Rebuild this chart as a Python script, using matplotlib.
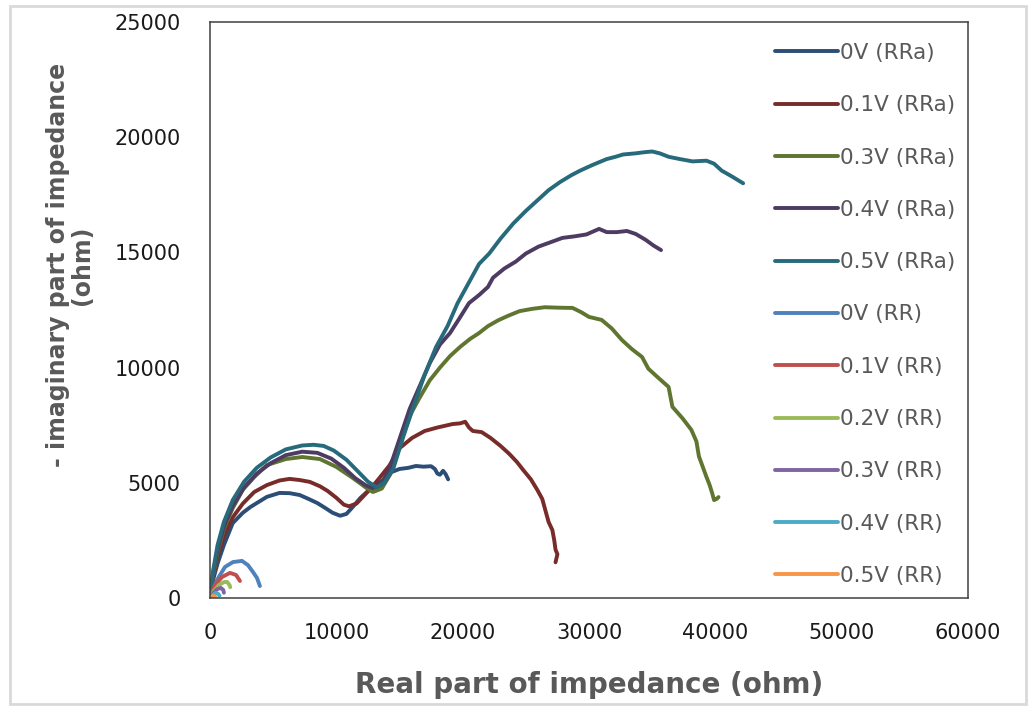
import matplotlib
matplotlib.use("Agg")
import matplotlib.pyplot as plt
from matplotlib.patches import Rectangle

# Nyquist data: (real, -imag) in ohm
labels = ["0V (RRa)", "0.1V (RRa)", "0.3V (RRa)", "0.4V (RRa)", "0.5V (RRa)",
          "0V (RR)", "0.1V (RR)", "0.2V (RR)", "0.3V (RR)", "0.4V (RR)", "0.5V (RR)"]
colors = ["#2C4D75", "#772C2A", "#5F7530", "#4D3B62", "#276A7C",
          "#4F81BD", "#C0504D", "#9BBB59", "#8064A2", "#4BACC6", "#F79646"]

rra_0v = [(0, 0), (250, 800), (600, 1500), (1100, 2300), (1800, 3250), (2600, 3700),
          (3200, 3950), (4500, 4390), (5500, 4560), (6300, 4550), (7100, 4470),
          (7800, 4300), (8500, 4120), (9200, 3880), (9700, 3700), (10300, 3570),
          (10800, 3650), (11300, 3950), (11900, 4340), (12600, 4690), (13300, 4950),
          (14000, 5250), (14300, 5450), (15000, 5600), (15700, 5650), (16300, 5730),
          (16900, 5700), (17500, 5720), (17800, 5600), (18000, 5400), (18200, 5350),
          (18450, 5520), (18650, 5380), (18850, 5150)]
rra_01v = [(0, 0), (250, 900), (600, 1800), (1100, 2700), (1800, 3500), (2600, 4100),
           (3500, 4600), (4500, 4900), (5500, 5100), (6300, 5170), (7100, 5120),
           (7900, 5040), (8700, 4850), (9300, 4650), (10000, 4350), (10600, 4050),
           (11000, 3980), (11600, 4100), (12200, 4450), (12800, 4800), (13400, 5200),
           (14200, 5750), (15000, 6500), (16000, 6950), (17000, 7250), (18000, 7400),
           (19200, 7550), (19800, 7580), (20200, 7650), (20500, 7400), (20800, 7250),
           (21500, 7200), (22200, 6950), (23000, 6600), (23700, 6250), (24300, 5900),
           (24800, 5550), (25400, 5150), (25900, 4700), (26300, 4300), (26600, 3700),
           (26800, 3300), (27100, 2950), (27250, 2500), (27350, 2100), (27500, 1900),
           (27350, 1550)]
rra_03v = [(0, 0), (250, 1000), (600, 2000), (1100, 3000), (1800, 3900), (2600, 4700),
           (3500, 5250), (4500, 5770), (6000, 6030), (7300, 6120), (8700, 6030),
           (10000, 5690), (11300, 5210), (12400, 4770), (12900, 4600), (13600, 4750),
           (14300, 5400), (15000, 6600), (15800, 7900), (16600, 8700), (17400, 9450),
           (18200, 10000), (19000, 10500), (19800, 10900), (20600, 11250), (21300, 11500),
           (22000, 11800), (22800, 12050), (23600, 12250), (24500, 12450), (25500, 12550),
           (26500, 12620), (27600, 12600), (28700, 12590), (29400, 12400), (30000, 12200),
           (31000, 12070), (31800, 11700), (32600, 11200), (33400, 10800), (34200, 10460),
           (34700, 9950), (35500, 9550), (36300, 9160), (36600, 8300), (37400, 7800),
           (38100, 7300), (38500, 6800), (38700, 6150), (39000, 5700), (39300, 5250),
           (39550, 4900), (39750, 4550), (39900, 4250), (40100, 4300), (40250, 4380)]
rra_04v = [(0, 0), (250, 1100), (600, 2100), (1100, 3100), (1800, 4000), (2700, 4800),
           (3700, 5400), (4800, 5850), (6000, 6200), (7300, 6350), (8500, 6300),
           (9600, 6050), (10600, 5650), (11500, 5200), (12300, 4900), (12900, 4770),
           (13500, 4900), (14200, 5600), (15000, 6900), (15800, 8200), (16600, 9200),
           (17400, 10200), (18200, 11000), (19000, 11500), (19700, 12100), (20500, 12800),
           (21300, 13150), (22000, 13500), (22400, 13900), (23300, 14300), (24200, 14600),
           (25000, 14950), (26000, 15250), (27000, 15450), (27900, 15630), (28900, 15700),
           (29800, 15780), (30800, 16020), (31400, 15880), (32200, 15880), (33000, 15930),
           (33700, 15800), (34500, 15540), (35100, 15300), (35700, 15100)]
rra_05v = [(0, 0), (250, 1200), (600, 2300), (1100, 3300), (1800, 4250), (2700, 5050),
           (3700, 5650), (4800, 6100), (6000, 6450), (7300, 6620), (8200, 6650),
           (9000, 6600), (9800, 6400), (10800, 6000), (11700, 5500), (12500, 5050),
           (13200, 4800), (13800, 5000), (14500, 5600), (15300, 7000), (16100, 8300),
           (17000, 9700), (17900, 10900), (18800, 11800), (19600, 12800), (20500, 13700),
           (21300, 14500), (22100, 14950), (23000, 15600), (24000, 16250), (25000, 16800),
           (26000, 17300), (26800, 17700), (27700, 18050), (28600, 18350), (29300, 18550),
           (30300, 18800), (31400, 19050), (32100, 19150), (32700, 19250), (33700, 19300),
           (34400, 19350), (35000, 19380), (35600, 19300), (36300, 19150), (37200, 19050),
           (38200, 18950), (39300, 18980), (39900, 18850), (40500, 18550), (41300, 18300),
           (42200, 18000)]

rr_0v = [(0, 0), (550, 780), (1190, 1350), (1820, 1560), (2530, 1610), (3000, 1430),
         (3400, 1130), (3720, 870), (3950, 520)]
rr_01v = [(0, 0), (400, 560), (950, 910), (1580, 1090), (2060, 1000), (2370, 740)]
rr_02v = [(0, 0), (300, 300), (700, 560), (1100, 690), (1350, 700), (1550, 560), (1600, 470)]
rr_03v = [(0, 0), (250, 200), (550, 380), (850, 440), (1050, 350), (1100, 230)]
rr_04v = [(0, 0), (200, 120), (450, 220), (650, 180), (750, 100)]
rr_05v = [(0, 0), (150, 60), (300, 90), (400, 60), (450, 20)]

series = [rra_0v, rra_01v, rra_03v, rra_04v, rra_05v,
          rr_0v, rr_01v, rr_02v, rr_03v, rr_04v, rr_05v]

fig = plt.figure(figsize=(10.30, 7.07), dpi=100)
ax = fig.add_axes([210 / 1030, 1 - 598 / 707, 758 / 1030, 576 / 707])

for pts, lab, col in zip(series, labels, colors):
    xs = [p[0] for p in pts]
    ys = [p[1] for p in pts]
    ax.plot(xs, ys, color=col, lw=2.8, label=lab, solid_capstyle="round",
            solid_joinstyle="round")

ax.set_xlim(0, 60000)
ax.set_ylim(0, 25000)
ax.set_xticks(range(0, 60001, 10000))
ax.set_yticks(range(0, 25001, 5000))
ax.tick_params(length=0, pad=18, labelsize=15, labelcolor="#1a1a1a")
ax.tick_params(axis="y", pad=21)
for sp in ax.spines.values():
    sp.set_color("#404040")
    sp.set_linewidth(1.1)

ax.set_xlabel("Real part of impedance (ohm)", fontsize=20, fontweight="bold",
              color="#595959", labelpad=20)
fig.text(70 / 1030, 1 - 265 / 707, "- imaginary part of impedance\n(ohm)",
         rotation=90, ha="center", va="center", fontsize=17, fontweight="bold",
         color="#595959", linespacing=1.05, multialignment="center")

leg = ax.legend(loc="upper left", bbox_to_anchor=(775 / 1030, 1 - 43 / 707),
                bbox_transform=fig.transFigure, frameon=False, fontsize=15.5,
                handlelength=2.93, handletextpad=0.1, labelspacing=1.50,
                borderpad=0, borderaxespad=0)
for t in leg.get_texts():
    t.set_color("#595959")

# light chart-area border
fig.patches.append(Rectangle((10 / 1030, 3 / 707), 1016 / 1030, 698 / 707,
                             transform=fig.transFigure, fill=False,
                             edgecolor="#d9d9d9", linewidth=2))

fig.savefig("out.png", dpi=100)
